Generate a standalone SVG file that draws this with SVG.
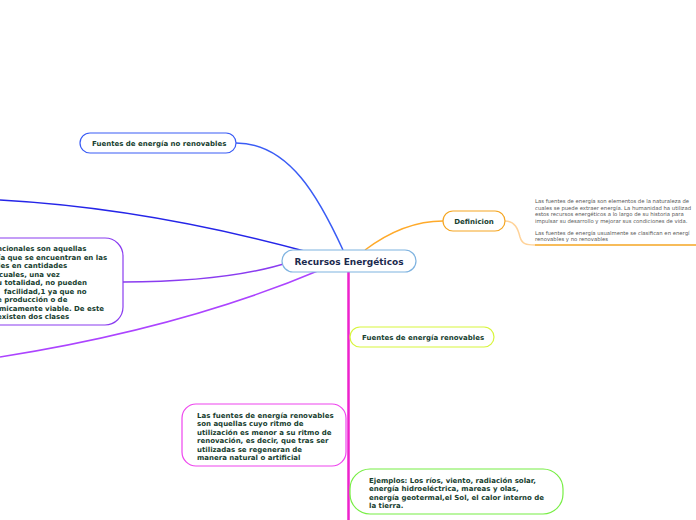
<svg xmlns="http://www.w3.org/2000/svg" width="696" height="520" viewBox="0 0 696 520">
<style>
.n{fill:#fff;stroke-width:1.2}
.t{font-family:"DejaVu Sans",Verdana,sans-serif;font-weight:bold;font-size:7px;fill:#17402f}
.d{font-family:"DejaVu Sans",Verdana,sans-serif;font-size:5.3px;fill:#555}
.c{fill:none;stroke-width:1.5}
</style>
<rect width="696" height="520" fill="#fff"/>
<g id="connectors">
<path class="c" d="M236,143 C290,143 320,200 343,250" stroke="#3a5cf5"/>
<path class="c" d="M0,200 C110,206 220,228 308,252" stroke="#2525e8" stroke-width="2"/>
<path class="c" d="M123,282 C190,282 250,275 290,262" stroke="#8a3cf0"/>
<path class="c" d="M0,357 C120,338 230,308 320,270" stroke="#ac44ff"/>
<path class="c" d="M365,250 C385,235 410,221 443,221" stroke="#ffaa2a"/>
<path class="c" d="M505,221 C515,221 518,229 520,237 C522,244 526,245 535,245" stroke="#ffd39a" stroke-width="1"/>
<line x1="535" y1="245" x2="696" y2="245" stroke="#f5a623" stroke-width="1.6"/>
<line x1="348.5" y1="272" x2="348.5" y2="520" stroke="#ee22cc" stroke-width="2.5"/>
</g>
<g id="central">
<rect class="n" x="282" y="250" width="134" height="22" rx="11" stroke="#7fb3e0"/>
<text x="349" y="264.5" text-anchor="middle" style="font-family:'DejaVu Sans',Verdana,sans-serif;font-weight:bold;font-size:9px;fill:#1b2a4e">Recursos Energéticos</text>
</g>
<g id="no-renovables">
<rect class="n" x="80" y="133" width="156" height="20" rx="10" stroke="#3a5cf5"/>
<text class="t" x="92" y="146">Fuentes de energía no renovables</text>
</g>
<g id="no-renovables-def">
<rect class="n" x="-30" y="238" width="153" height="87" rx="18" stroke="#8a3cf0"/>
<text class="t" x="-3" y="251">ncionales son aquellas</text>
<text class="t" x="-2" y="259.5">ía que se encuentran en las</text>
<text class="t" x="-2" y="268">les en cantidades</text>
<text class="t" x="-1" y="276.5">cuales, una vez</text>
<text class="t" x="-3" y="285">u totalidad, no pueden</text>
<text class="t" x="4" y="293.5">facilidad,1 ya que no</text>
<text class="t" x="-3" y="302">e producción o de</text>
<text class="t" x="-1" y="310.5">micamente viable. De este</text>
<text class="t" x="-3" y="319">existen dos clases</text>
</g>
<g id="definicion">
<rect class="n" x="443" y="211" width="62" height="20" rx="10" stroke="#f5a623"/>
<text class="t" x="474" y="224" text-anchor="middle">Definicion</text>
</g>
<g id="definicion-text">
<text class="d" x="535" y="203">Las fuentes de energía son elementos de la naturaleza de</text>
<text class="d" x="535" y="209.5">cuales se puede extraer energía. La humanidad ha utilizad</text>
<text class="d" x="535" y="216">estos recursos energéticos a lo largo de su historia para</text>
<text class="d" x="535" y="222.5">impulsar su desarrollo y mejorar sus condiciones de vida.</text>
<text class="d" x="535" y="234.5">Las fuentes de energía usualmente se clasifican en energí</text>
<text class="d" x="535" y="241">renovables y no renovables</text>
</g>
<g id="renovables">
<rect class="n" x="350" y="327" width="144" height="20" rx="10" stroke="#d8f53c"/>
<text class="t" x="362" y="340">Fuentes de energía renovables</text>
</g>
<g id="renovables-def">
<rect class="n" x="182" y="404" width="164" height="62" rx="14" stroke="#ee44ee"/>
<text class="t" x="197" y="418">Las fuentes de energía renovables</text>
<text class="t" x="197" y="426">son aquellas cuyo ritmo de</text>
<text class="t" x="197" y="434.5">utilización es menor a su ritmo de</text>
<text class="t" x="197" y="443">renovación, es decir, que tras ser</text>
<text class="t" x="197" y="451.5">utilizadas se regeneran de</text>
<text class="t" x="197" y="459.5">manera natural o artificial</text>
</g>
<g id="ejemplos">
<rect class="n" x="350" y="469" width="213" height="45" rx="20" stroke="#77ee44"/>
<text class="t" x="369" y="482.5">Ejemplos: Los ríos, viento, radiación solar,</text>
<text class="t" x="369" y="491">energía hidroeléctrica, mareas y olas,</text>
<text class="t" x="369" y="499.5">energía geotermal,el Sol, el calor interno de</text>
<text class="t" x="369" y="508">la tierra.</text>
</g>
</svg>
